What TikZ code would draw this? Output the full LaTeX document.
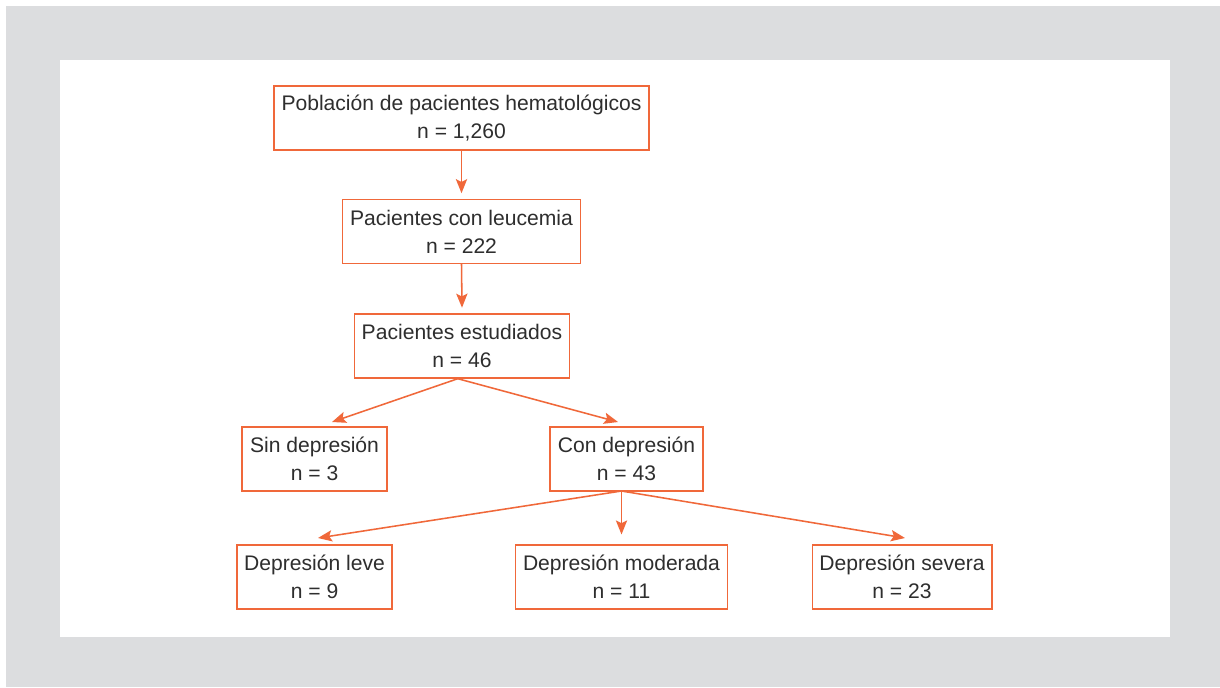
\documentclass[tikz,border=0pt]{standalone}
\usepackage{fontspec}
\setmainfont{Liberation Sans}
\usetikzlibrary{arrows.meta,calc,positioning}
\definecolor{frame}{HTML}{DCDDDF}
\definecolor{accent}{HTML}{F0683A}
\definecolor{ink}{HTML}{2E2E2E}
\tikzset{>={Stealth[length=10pt,width=8pt,inset=2pt]},line width=1.1pt,
  every node/.style={font=\fontsize{15}{19.8}\selectfont,text=ink},
  box/.style={draw=accent,line width=1.1pt,align=center,inner sep=0pt,minimum height=45.4pt},
  link/.style={->,draw=accent,line width=1.1pt}}

\begin{document}
\begin{tikzpicture}[x=0.025cm,y=-0.025cm]
\useasboundingbox (0,0) rectangle (1220,687);
\fill[frame] (6,6) rectangle (1220,687);
\fill[white] (60,60) rectangle (1170,637);
\node[box,minimum width=267pt] (pob) at (461.5,118) {Población de pacientes hematológicos\\n = 1,260};
\node[box,minimum width=169.5pt] (leu) at (461.5,231.5) {Pacientes con leucemia\\n = 222};
\node[box,minimum width=153pt] (est) at (462,346) {Pacientes estudiados\\n = 46};
\node[box,minimum width=102.8pt] (sin) at (314.5,459) {Sin depresión\\n = 3};
\node[box,minimum width=108.5pt] (con) at (626.5,459) {Con depresión\\n = 43};
\node[box,minimum width=110pt] (lev) at (314.5,577) {Depresión leve\\n = 9};
\node[box,minimum width=151pt] (mod) at (621.5,577) {Depresión moderada\\n = 11};
\node[box,minimum width=127.6pt] (sev) at (902,577) {Depresión severa\\n = 23};
% free arrow ends
\coordinate (tsin) at (332,422);
\coordinate (tcon) at (618,422);
\coordinate (tlev) at (318,538);
\coordinate (tsev) at (905,538);
\coordinate (ocon) at (621.5,491);
\draw[link] (pob.south) -- ([yshift=4pt]leu.north);
\draw[link] (leu.south) -- ([yshift=4pt]est.north);
\draw[link] ([xshift=-3pt]est.south) -- (tsin);
\draw[link] ([xshift=-3pt]est.south) -- (tcon);
\draw[link] (ocon) -- (tlev);
\draw[link] (ocon) -- ([yshift=7pt]mod.north);
\draw[link] (ocon) -- (tsev);
\end{tikzpicture}
\end{document}
